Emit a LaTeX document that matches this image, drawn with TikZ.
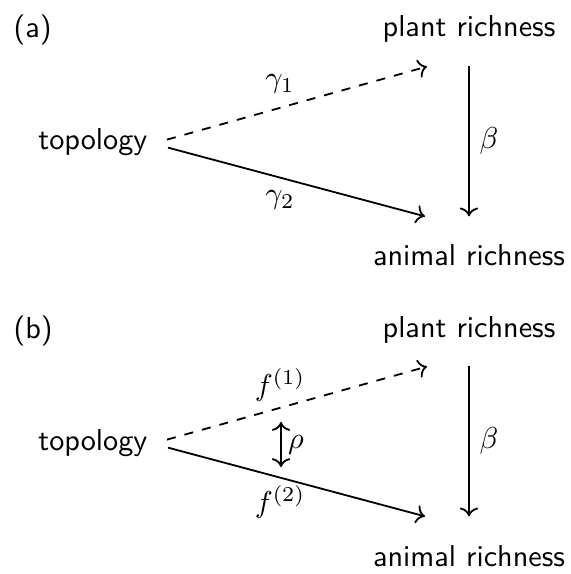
\documentclass[tikz,border=0pt]{standalone}
\usepackage{tikz}
\usetikzlibrary{arrows.meta,positioning}

\begin{document}
\begin{tikzpicture}[x=0.331pt,y=-0.331pt,
  var/.style={font=\sffamily,inner sep=3pt},
  tag/.style={font=\sffamily,inner sep=0pt},
  lab/.style={inner sep=1pt},
  e/.style={->,semithick},
  ed/.style={e,dashed}]

\useasboundingbox (0,0) rectangle (571,574);

% ---- (a) ----
\begin{scope}
\node[tag,anchor=base west] (tagA) at (13,38) {(a)};
\node[var,anchor=base] (plantA) at (469,37) {plant richness};
\node[var,anchor=base east] (topoA) at (157,150) {topology};
\node[var,anchor=base] (animA) at (469,266) {animal richness};

\coordinate (pA) at ([shift={(-42,14)}]plantA.south);
\coordinate (aA) at ([shift={(-44,-19)}]animA.north);

\draw[ed] ([shift={(10,-3)}]topoA.east) -- (pA);
\draw[e] ([shift={(11,5)}]topoA.east) -- (aA);
\draw[e] ([shift={(0,13)}]plantA.south) -- ([shift={(0,-19)}]animA.north);

\node[lab] (g1) at (280,84) {$\gamma_1$};
\node[lab] (g2) at (280,200) {$\gamma_2$};
\node[lab] (bA) at (489,141) {$\beta$};
\end{scope}

% ---- (b) ----
\begin{scope}[shift={(0,300)}]
\node[tag,anchor=base west] (tagB) at (13,38) {(b)};
\node[var,anchor=base] (plantB) at (469,37) {plant richness};
\node[var,anchor=base east] (topoB) at (157,150) {topology};
\node[var,anchor=base] (animB) at (469,266) {animal richness};

\coordinate (pB) at ([shift={(-42,14)}]plantB.south);
\coordinate (aB) at ([shift={(-44,-19)}]animB.north);

\draw[ed] ([shift={(10,-3)}]topoB.east) -- (pB);
\draw[e] ([shift={(11,5)}]topoB.east) -- (aB);
\draw[e] ([shift={(0,13)}]plantB.south) -- ([shift={(0,-19)}]animB.north);

\coordinate (r1) at (281,122);
\coordinate (r2) at (281,167);
\draw[<->,semithick] (r1) -- (r2);

\node[lab] (f1) at (280,85) {$f^{(1)}$};
\node[lab] (f2) at (280,202) {$f^{(2)}$};
\node[lab] (rho) at (296,145) {$\rho$};
\node[lab] (bB) at (489,141) {$\beta$};
\end{scope}
\end{tikzpicture}
\end{document}
